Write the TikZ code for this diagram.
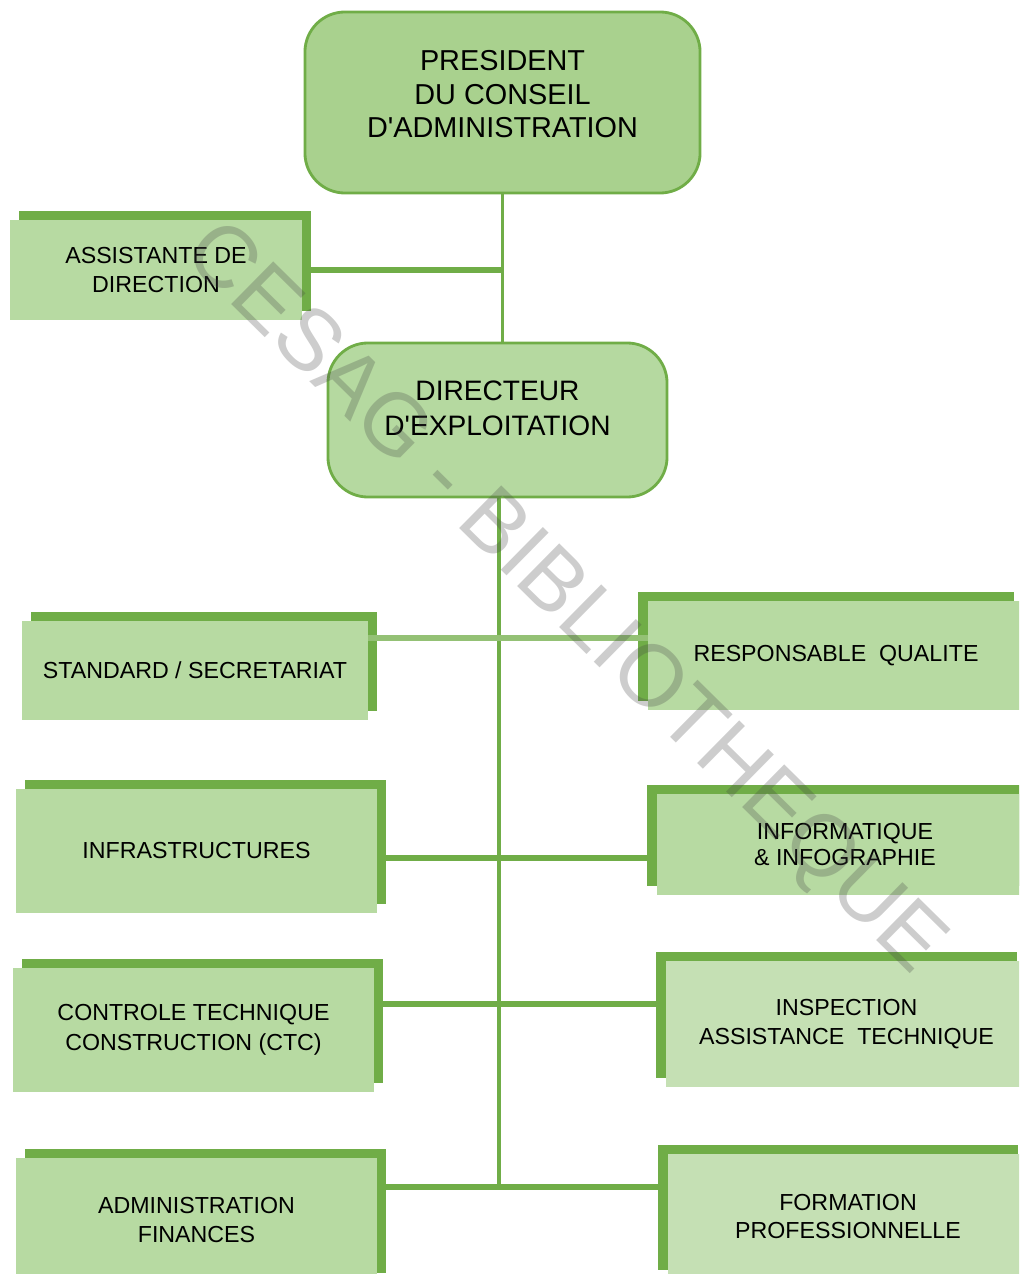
\documentclass[tikz,border=0pt]{standalone}
\usepackage{fontspec}
\setmainfont{Liberation Sans}
\usetikzlibrary{shadows}
\definecolor{orggreen}{RGB}{112,173,71}
\definecolor{headfill}{RGB}{169,209,142}
\definecolor{dirfill}{RGB}{181,217,160}
\definecolor{unitfill}{RGB}{183,218,162}
\definecolor{palefill}{RGB}{197,224,180}
\definecolor{stampgray}{RGB}{70,70,70}
\tikzset{
  headbox/.style={rectangle, rounded corners=1cm, draw=orggreen,
    line width=2pt, fill=headfill, align=center, inner sep=0pt,
    font=\fontsize{20.5}{24}\selectfont},
  unitbox/.style={rectangle, fill=unitfill, align=center, inner sep=0pt,
    font=\fontsize{16.5}{21}\selectfont},
  leftunit/.style={unitbox, general shadow={fill=orggreen,
    shadow xshift=0.22cm, shadow yshift=0.23cm}},
  rightunit/.style={unitbox, general shadow={fill=orggreen,
    shadow xshift=-0.25cm, shadow yshift=0.23cm}},
  trunk/.style={draw=orggreen, line width=2.4pt},
  branch/.style={draw=orggreen, line width=3.8pt},
}

\begin{document}
\begin{tikzpicture}[x=0.025cm, y=-0.025cm]
  \useasboundingbox (0,0) rectangle (1019,1274);
  \clip (0,0) rectangle (1019,1274);

  % top of the chart
  \node[headbox, minimum width=9.875cm, minimum height=4.525cm]
    (pres) at (502.5,102.5)
    {PRESIDENT\\DU CONSEIL\\D\textquotesingle ADMINISTRATION\rule[-12pt]{0pt}{12pt}};
  \node[headbox, fill=dirfill, minimum width=8.475cm, minimum height=3.85cm,
    font=\fontsize{20}{25}\selectfont]
    (dir) at (497.5,420)
    {DIRECTEUR\\D\textquotesingle EXPLOITATION\rule[-17pt]{0pt}{17pt}};
  \node[leftunit, minimum width=7.3cm, minimum height=2.5cm]
    (assist) at (156,270) {ASSISTANTE DE\\DIRECTION};

  % services, left column
  \node[leftunit, minimum width=8.65cm, minimum height=2.475cm]
    (standard) at (195,670.5) {STANDARD / SECRETARIAT};
  \node[leftunit, minimum width=9.025cm, minimum height=3.1cm]
    (infra) at (196.5,851) {INFRASTRUCTURES};
  \node[leftunit, minimum width=9.025cm, minimum height=3.1cm]
    (ctc) at (193.5,1030) {CONTROLE TECHNIQUE\\CONSTRUCTION (CTC)};
  \node[leftunit, minimum width=9.025cm, minimum height=3.1cm]
    (admin) at (196.5,1220) {ADMINISTRATION\\FINANCES};

  % services, right column
  \node[rightunit, minimum width=9.4cm, minimum height=2.725cm]
    (qual) at (836,655.5) {RESPONSABLE\ \ QUALITE};
  \node[rightunit, minimum width=9.4cm, minimum height=2.525cm,
    font=\fontsize{16.5}{18.5}\selectfont]
    (info) at (845,844.5) {INFORMATIQUE\\\& INFOGRAPHIE};
  \node[rightunit, fill=palefill, minimum width=9.025cm, minimum height=3.15cm]
    (insp) at (846.5,1024) {INSPECTION\\ASSISTANCE\ \ TECHNIQUE};
  \node[rightunit, fill=palefill, minimum width=9cm, minimum height=3.125cm,
    font=\fontsize{16.5}{19.5}\selectfont]
    (form) at (848,1216.5) {FORMATION\\PROFESSIONNELLE};

  % links
  \coordinate (j1) at (499,638);
  \coordinate (j2) at (499,858);
  \coordinate (j3) at (499,1004);
  \coordinate (j4) at (499,1187);
  \draw[trunk] (pres.south) -- (pres.south |- dir.north);
  \draw[branch] (assist.east) -- (assist.east -| pres.south);
  \draw[trunk] (dir.south -| j1) -- (j4);
  \draw[branch, draw=orggreen!75] (standard.east |- j1) -- (qual.west |- j1);
  \draw[branch] (infra.east |- j2) -- (info.west |- j2);
  \draw[branch] (ctc.east |- j3) -- (insp.west |- j3);
  \draw[branch] (admin.east |- j4) -- (form.west |- j4);

  \node[font=\fontsize{62}{62}\selectfont, text=stampgray, text opacity=0.27,
    rotate=-44.6] (stamp) at (563,600) {CESAG - BIBLIOTHEQUE};
\end{tikzpicture}
\end{document}
